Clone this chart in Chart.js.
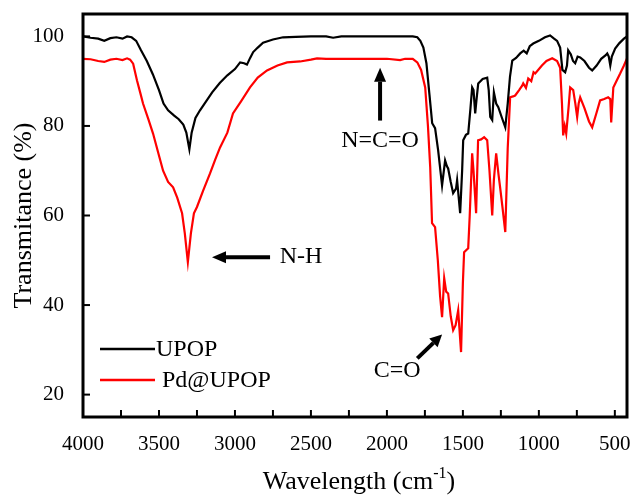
<!DOCTYPE html>
<html>
<head>
<meta charset="utf-8">
<script src="https://cdn.jsdelivr.net/npm/chart.js@4.4.1/dist/chart.umd.min.js"></script>
<style>
  html, body { margin: 0; padding: 0; background: #fff; }
  #wrap { width: 633px; height: 495px; }
</style>
</head>
<body>
<div id="wrap"><canvas id="ftir" width="633" height="495"></canvas></div>
<script>
// UPOP (black)
const wnUPOP = [4000,3950,3900,3860,3820,3780,3740,3710,3680,3650,3620,3580,3540,3500,3470,3440,3400,3370,3340,3320,3300,3285,3260,3230,3200,3150,3100,3050,3000,2966,2940,2921,2900,2880,2850,2815,2750,2683,2600,2500,2400,2354,2300,2200,2100,2000,1900,1830,1800,1780,1760,1740,1720,1702,1683,1663,1637,1617,1605,1597,1580,1564,1545,1538,1518,1505,1498,1480,1465,1450,1439,1430,1419,1410,1399,1370,1340,1330,1320,1307,1296,1281,1267,1245,1221,1205,1190,1175,1150,1123,1100,1080,1060,1037,1000,960,926,900,880,860,845,827,815,807,790,775,761,745,728,700,670,649,620,590,560,550,540,530,520,498,470,440,420];
const tUPOP  = [100.0,99.7,99.5,99.0,99.6,99.8,99.5,100.0,99.8,99.0,97.0,94.5,91.5,88.0,85.0,83.5,82.3,81.5,80.3,78.5,74.8,78.5,81.8,83.5,85.0,87.5,89.6,91.3,92.7,94.2,94.0,93.7,95.2,96.5,97.5,98.6,99.3,99.8,99.9,100.0,100.0,99.7,100.0,100.0,100.0,100.0,100.0,100.0,99.8,99.0,97.5,94.0,87.0,80.6,79.5,74.6,66.7,72.3,71.0,70.5,67.5,65.0,66.0,67.9,60.5,70.0,76.8,78.0,78.3,84.0,88.6,88.0,82.8,86.0,89.5,90.5,90.8,88.0,82.0,81.3,87.5,85.0,84.2,82.0,79.7,85.0,91.0,94.6,95.2,96.2,96.8,96.2,97.8,98.4,99.0,99.8,100.2,99.5,99.0,97.5,92.5,92.0,93.5,96.9,96.0,94.5,94.0,95.5,95.3,94.5,93.0,92.4,93.5,95.0,95.8,96.2,95.5,93.5,95.5,97.3,98.5,99.5,100.0];

// Pd@UPOP (red)
const wnPd = [4000,3950,3900,3860,3820,3780,3740,3710,3690,3670,3645,3620,3605,3570,3539,3505,3473,3440,3407,3380,3348,3330,3310,3290,3270,3250,3210,3164,3130,3098,3050,3013,2960,2901,2850,2789,2720,2657,2571,2500,2460,2400,2300,2200,2100,2000,1913,1880,1830,1800,1775,1748,1730,1715,1703,1683,1665,1650,1637,1623,1610,1597,1580,1564,1548,1531,1512,1500,1492,1465,1455,1439,1430,1413,1400,1380,1360,1340,1325,1307,1296,1281,1265,1255,1240,1221,1205,1189,1170,1156,1130,1110,1103,1085,1070,1050,1035,1024,980,950,912,880,860,848,840,830,820,805,794,774,760,748,738,728,700,670,649,620,597,570,544,530,524,510,490,465,440,420];
const tPd  = [95.0,94.9,94.5,94.3,94.8,95.0,94.7,95.1,94.8,93.9,90.2,87.0,85.0,81.5,78.3,74.0,70.0,67.5,66.3,64.0,60.5,56.0,49.6,56.0,60.5,61.9,65.5,69.4,72.5,75.2,78.5,82.8,85.5,88.6,90.8,92.4,93.5,94.2,94.4,94.8,95.1,95.0,95.0,95.0,95.0,95.0,94.7,95.0,95.0,94.2,92.5,88.6,80.0,70.8,58.3,57.4,50.0,42.0,37.3,46.0,43.0,42.6,37.5,34.4,35.5,38.8,29.5,45.0,51.8,52.7,60.0,73.9,70.0,60.5,76.8,77.0,77.5,76.8,70.0,60.0,68.0,73.9,69.0,66.3,62.0,56.3,75.0,86.4,86.6,86.8,88.0,89.0,89.5,88.5,90.6,90.0,92.0,91.7,93.5,94.5,95.1,94.5,93.0,85.0,77.9,80.0,78.3,84.0,88.6,88.0,85.0,82.0,85.0,86.4,84.0,81.0,79.7,83.0,85.7,86.0,86.4,86.0,80.8,88.6,90.0,91.7,93.5,95.1];

const xTickValues = [500,750,1000,1250,1500,1750,2000,2250,2500,2750,3000,3250,3500,3750,4000];
const yTickValues = [20,40,60,80,100];

const serif = "'Liberation Serif', 'Times New Roman', serif";
Chart.defaults.font.family = serif;
Chart.defaults.color = '#000';

function toXY(xs, ys) {
  return xs.map((x, i) => ({ x: x, y: ys[i] }));
}

function arrow(ctx, x1, y1, x2, y2, w, head, headW) {
  const a = Math.atan2(y2 - y1, x2 - x1);
  const bx = x2 - head * Math.cos(a), by = y2 - head * Math.sin(a);
  ctx.beginPath();
  ctx.lineWidth = w;
  ctx.moveTo(x1, y1);
  ctx.lineTo(bx, by);
  ctx.stroke();
  ctx.beginPath();
  ctx.moveTo(x2, y2);
  ctx.lineTo(bx + headW * Math.sin(a), by - headW * Math.cos(a));
  ctx.lineTo(bx - headW * Math.sin(a), by + headW * Math.cos(a));
  ctx.closePath();
  ctx.fill();
}

const decorations = {
  id: 'decorations',
  afterDraw(chart) {
    const ctx = chart.ctx;
    const xs = chart.scales.x, ys = chart.scales.y;
    const { left, right, top, bottom } = chart.chartArea;
    ctx.save();
    ctx.strokeStyle = '#000';
    ctx.fillStyle = '#000';

    // inward ticks
    ctx.lineWidth = 2;
    xTickValues.forEach(v => {
      const px = xs.getPixelForValue(v);
      ctx.beginPath(); ctx.moveTo(px, bottom); ctx.lineTo(px, bottom - 7); ctx.stroke();
    });
    yTickValues.forEach(v => {
      const py = ys.getPixelForValue(v);
      ctx.beginPath(); ctx.moveTo(left, py); ctx.lineTo(left + 7, py); ctx.stroke();
    });

    // frame
    ctx.lineWidth = 3;
    ctx.strokeRect(left, top, right - left, bottom - top);

    // annotations
    ctx.font = '24px ' + serif;
    ctx.textBaseline = 'middle';
    // N-H
    arrow(ctx, xs.getPixelForValue(2769), ys.getPixelForValue(50.7),
               xs.getPixelForValue(3151), ys.getPixelForValue(50.7), 4, 14, 6);
    ctx.textAlign = 'left';
    ctx.fillText('N-H', xs.getPixelForValue(2705), ys.getPixelForValue(50.7));
    // N=C=O
    arrow(ctx, xs.getPixelForValue(2045), ys.getPixelForValue(81.2),
               xs.getPixelForValue(2045), ys.getPixelForValue(93.0), 4, 14, 6);
    ctx.textAlign = 'center';
    ctx.fillText('N=C=O', xs.getPixelForValue(2045), ys.getPixelForValue(76.6));
    // C=O
    arrow(ctx, xs.getPixelForValue(1800), ys.getPixelForValue(28.1),
               xs.getPixelForValue(1637), ys.getPixelForValue(33.4), 4, 12, 6);
    ctx.fillText('C=O', xs.getPixelForValue(1933), ys.getPixelForValue(25.3));

    // legend
    ctx.lineWidth = 2.5;
    ctx.strokeStyle = '#000';
    ctx.beginPath(); ctx.moveTo(left + 17, 349); ctx.lineTo(left + 72, 349); ctx.stroke();
    ctx.strokeStyle = '#ff0000';
    ctx.beginPath(); ctx.moveTo(left + 17, 380); ctx.lineTo(left + 72, 380); ctx.stroke();
    ctx.textAlign = 'left';
    ctx.fillText('UPOP', left + 73, 350);
    ctx.fillText('Pd@UPOP', left + 79, 381);

    // axis titles
    ctx.font = '26px ' + serif;
    ctx.textBaseline = 'alphabetic';
    const mainTxt = 'Wavelength (cm';
    const supTxt = '-1';
    const endTxt = ')';
    const w1 = ctx.measureText(mainTxt).width;
    const w3 = ctx.measureText(endTxt).width;
    ctx.font = '16px ' + serif;
    const w2 = ctx.measureText(supTxt).width;
    let sx = (left + right) / 2 - (w1 + w2 + w3) / 2 + 4;
    const by = 489;
    ctx.font = '26px ' + serif;
    ctx.fillText(mainTxt, sx, by);
    ctx.font = '16px ' + serif;
    ctx.fillText(supTxt, sx + w1, by - 11);
    ctx.font = '26px ' + serif;
    ctx.fillText(endTxt, sx + w1 + w2, by);

    ctx.translate(24, (top + bottom) / 2);
    ctx.rotate(-Math.PI / 2);
    ctx.textAlign = 'center';
    ctx.textBaseline = 'middle';
    ctx.fillText('Transmitance (%)', 0, 0);
    ctx.restore();
  }
};

new Chart(document.getElementById('ftir').getContext('2d'), {
  type: 'line',
  data: {
    datasets: [
      { label: 'UPOP', data: toXY(wnUPOP, tUPOP), borderColor: '#000', borderWidth: 2.2, pointRadius: 0, tension: 0 },
      { label: 'Pd@UPOP', data: toXY(wnPd, tPd), borderColor: '#ff0000', borderWidth: 2.2, pointRadius: 0, tension: 0 }
    ]
  },
  options: {
    responsive: false,
    animation: false,
    layout: { padding: { top: 14, right: 6, left: 0, bottom: 0 } },
    plugins: { legend: { display: false }, tooltip: { enabled: false } },
    scales: {
      x: {
        type: 'linear',
        reverse: true,
        min: 420,
        max: 4000,
        grid: { display: false },
        border: { display: false },
        afterBuildTicks: s => { s.ticks = xTickValues.map(v => ({ value: v })); },
        afterFit: s => { s.height = 78; s.paddingLeft = 0; s.paddingRight = 0; },
        ticks: {
          autoSkip: false,
          maxRotation: 0,
          padding: 7,
          font: { size: 21 },
          callback: v => (v % 500 === 0 ? String(v) : '')
        }
      },
      y: {
        min: 15,
        max: 105,
        grid: { display: false },
        border: { display: false },
        afterBuildTicks: s => { s.ticks = yTickValues.map(v => ({ value: v })); },
        afterFit: s => { s.width = 83; s.paddingTop = 0; s.paddingBottom = 0; },
        ticks: { padding: 11, font: { size: 21 } }
      }
    }
  },
  plugins: [decorations]
});
</script>
</body>
</html>
